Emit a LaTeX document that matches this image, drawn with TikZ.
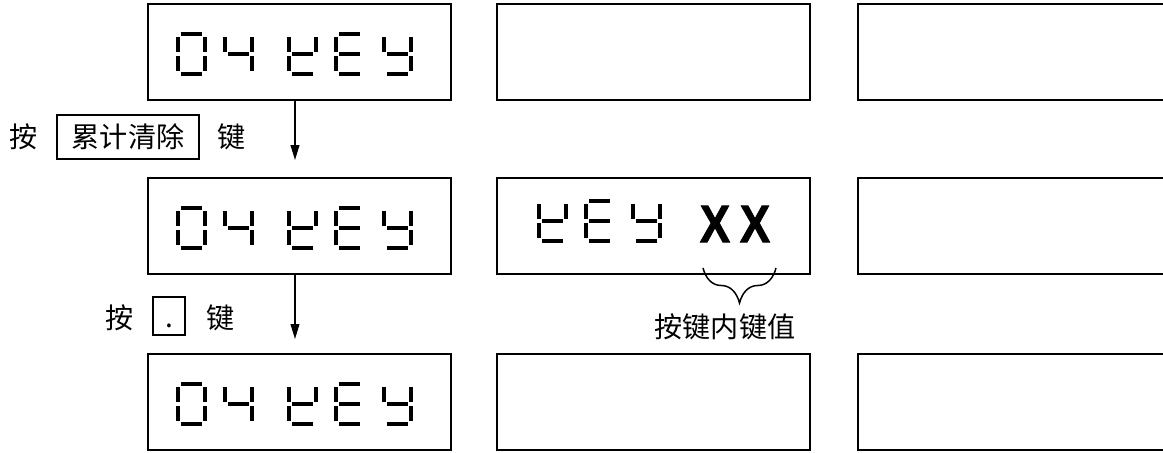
\documentclass[tikz,border=0pt]{standalone}
\usepackage{fontspec}
\setmainfont{Noto Sans CJK SC}
\newfontfamily\xfont{Liberation Sans Bold}[FakeBold=1.6]
\usetikzlibrary{arrows.meta,decorations.pathreplacing}
% seven-segment pieces, cell 31 x 44 px, left #1, top #2
\newcommand\sevA[2]{\fill ({#1+5},{#2}) rectangle ({#1+26},{#2+4});}
\newcommand\sevB[2]{\fill ({#1+27},{#2+5}) rectangle ({#1+31},{#2+20});}
\newcommand\sevC[2]{\fill ({#1+27},{#2+24}) rectangle ({#1+31},{#2+39});}
\newcommand\sevD[2]{\fill ({#1+5},{#2+40}) rectangle ({#1+26},{#2+44});}
\newcommand\sevE[2]{\fill ({#1},{#2+24}) rectangle ({#1+4},{#2+39});}
\newcommand\sevF[2]{\fill ({#1},{#2+5}) rectangle ({#1+4},{#2+20});}
\newcommand\sevG[2]{\fill ({#1+5},{#2+20}) rectangle ({#1+26},{#2+24});}
\newcommand\sevdigit[3]{\foreach \s in {#3}{\csname sev\s\endcsname{#1}{#2}}}
\begin{document}
\begin{tikzpicture}[x=0.02cm,y=-0.02cm,
  dispbox/.style={draw, line width=1.1pt, inner sep=0pt, minimum height=1.92cm},
  keybox/.style={draw, line width=1pt, inner sep=0pt},
  lbl/.style={font=\fontsize{16pt}{18pt}\selectfont, inner sep=0pt},
  flow/.style={line width=0.85pt, -{Triangle[length=8.5pt,width=5pt]}},
  bigx/.style={font=\xfont\fontsize{30pt}{32pt}\selectfont, xscale=0.86, inner sep=0pt},
  bracestyle/.style={line width=0.85pt, decorate, decoration={brace, mirror, amplitude=0.7cm}}]
\useasboundingbox (0,0) rectangle (1163,453);
\clip (0,0) rectangle (1163,453);

% display boxes
\node[dispbox, minimum width=6.06cm] (L1) at (299.5,52) {};
\node[dispbox, minimum width=6.26cm] (M1) at (653.5,52) {};
\node[dispbox, minimum width=6.24cm] (R1) at (1014,52) {};
\node[dispbox, minimum width=6.06cm] (L2) at (299.5,226) {};
\node[dispbox, minimum width=6.26cm] (M2) at (653.5,226) {};
\node[dispbox, minimum width=6.24cm] (R2) at (1014,226) {};
\node[dispbox, minimum width=6.06cm] (L3) at (299.5,402) {};
\node[dispbox, minimum width=6.26cm] (M3) at (653.5,402) {};
\node[dispbox, minimum width=6.24cm] (R3) at (1014,402) {};

% seven-segment "04 kEy" in left boxes
\foreach \T in {32,206,382}{
  \sevdigit{176}{\T}{A,B,C,D,E,F}
  \sevdigit{223}{\T}{F,B,G,C}
  \sevdigit{287}{\T}{F,B,G,E,D}
  \sevdigit{334}{\T}{A,F,G,E,D}
  \sevdigit{382}{\T}{F,B,G,C,D}
}
% "kEy" in middle box of row 2
\sevdigit{537}{199}{F,B,G,E,D}
\sevdigit{584}{199}{A,F,G,E,D}
\sevdigit{631}{199}{F,B,G,C,D}
\node[bigx] (x1) at (715,224) {X};
\node[bigx] (x2) at (755,224) {X};

% brace and its label
\coordinate (bl) at (703,268);
\coordinate (br) at (776,268);
\draw[bracestyle] (bl) -- (br);
\node[lbl] (val) at (725,327) {按键内键值};

% key labels
\node[lbl] (an1) at (23.5,137) {按};
\node[lbl, keybox, minimum width=2.84cm, minimum height=0.88cm] (k1) at (128,137) {累计清除};
\node[lbl] (jian1) at (232,137) {键};
\node[lbl] (an2) at (120,317.5) {按};
\node[lbl, keybox, minimum width=0.64cm, minimum height=0.76cm, text height=14pt, text depth=0.4pt] (k2) at (169,316) {.};
\node[lbl] (jian2) at (221,317.5) {键};

% arrows
\coordinate (t1) at (295,160);
\coordinate (t2) at (295,339);
\draw[flow] (L1.south -| t1) -- (t1);
\draw[flow] (L2.south -| t2) -- (t2);
\end{tikzpicture}
\end{document}
